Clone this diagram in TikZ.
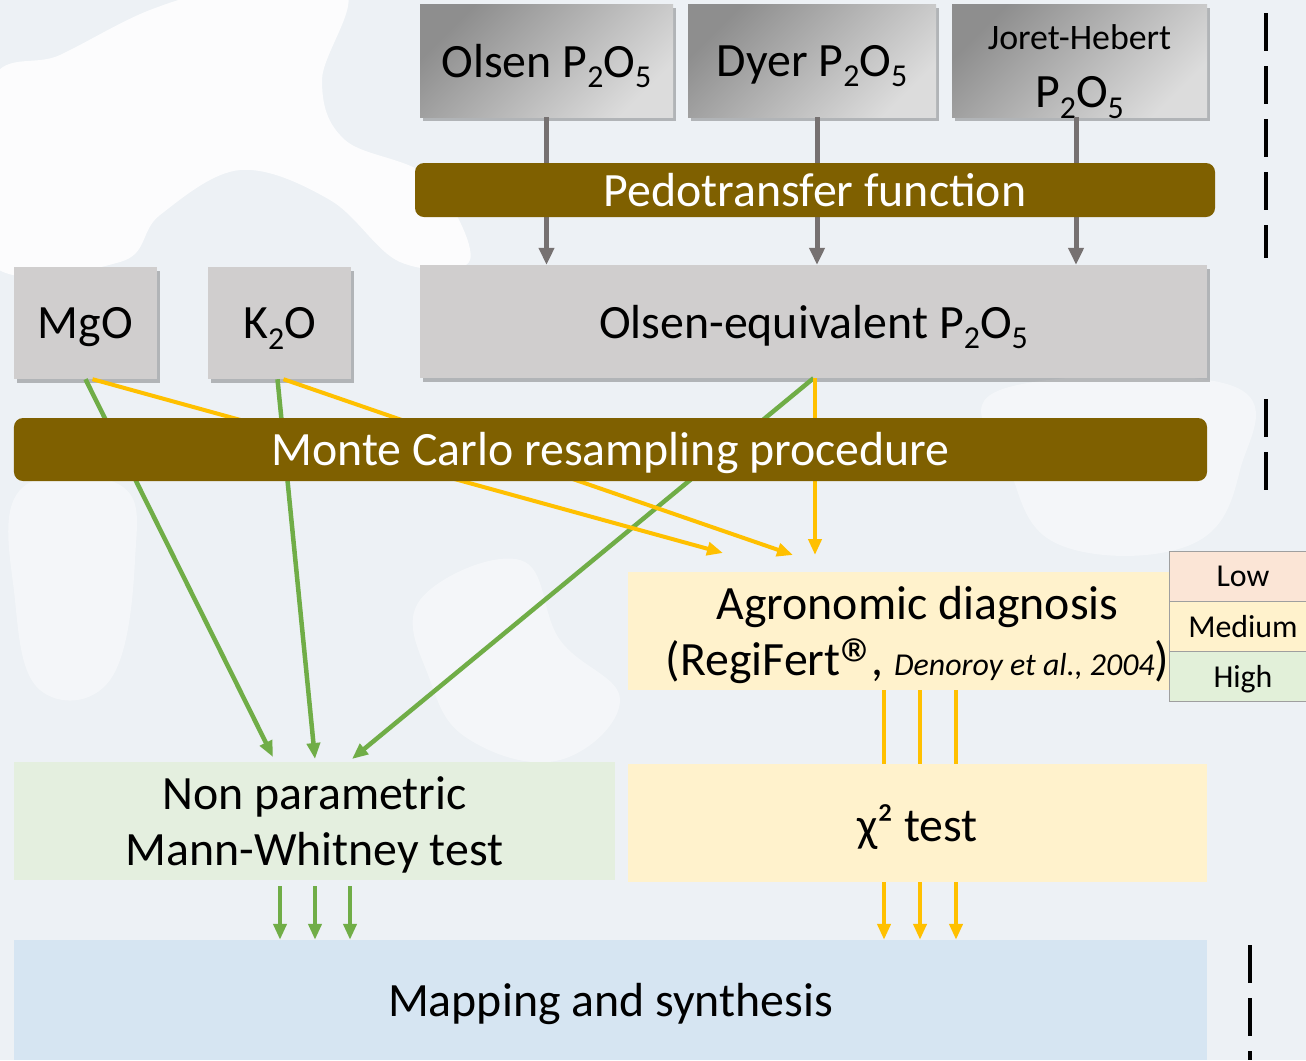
\documentclass[tikz,border=0pt]{standalone}
\usepackage{fontspec}
\setmainfont{Carlito}
\usetikzlibrary{arrows.meta,shadows,calc}
\definecolor{bgc}{HTML}{EDF1F5}
\definecolor{boxgray}{HTML}{D0CECE}
\definecolor{gradA}{HTML}{8E8E8E}
\definecolor{gradB}{HTML}{DCDCDC}
\definecolor{barc}{HTML}{7F6000}
\definecolor{agroc}{HTML}{FFF2CC}
\definecolor{npc}{HTML}{E4EFDF}
\definecolor{mapc}{HTML}{D6E5F2}
\definecolor{lowc}{HTML}{FBE5D6}
\definecolor{highc}{HTML}{E2F0D9}
\definecolor{garr}{HTML}{767171}
\definecolor{grn}{HTML}{70AD47}
\definecolor{yel}{HTML}{FFC000}
\newcommand{\sbs}[1]{\raisebox{-0.22em}{\fontsize{32}{32}\selectfont #1}}
\newcommand{\regmark}{\raisebox{-16bp}{\scalebox{1.6}{®}}\kern-8bp}
\tikzset{
  bigtxt/.style={font=\fontsize{48}{56}\selectfont},
  plainbox/.style={inner sep=0pt, align=center, bigtxt, text depth=0pt},
  shadowed/.style={drop shadow={shadow xshift=3bp, shadow yshift=-4bp, opacity=0.25, fill=black}},
  gradbox/.style={plainbox, shadowed, top color=gradA, bottom color=gradB, shading angle=45},
  graybox/.style={plainbox, shadowed, fill=boxgray},
  barbox/.style={inner sep=0pt, bigtxt, fill=barc, rounded corners=9bp, text=white},
  garrow/.style={draw=garr, line width=5bp, -{Triangle[length=17bp, width=15bp]}},
  greenarrow/.style={draw=grn, line width=4.5bp, -{Triangle[length=16bp, width=13bp]}},
  yelarrow/.style={draw=yel, line width=4bp, -{Triangle[length=16bp, width=13bp]}},
  yelline/.style={draw=yel, line width=4bp},
  dashline/.style={draw=black, line width=4bp, dash pattern=on 38bp off 15bp},
  levelbox/.style={inner sep=0pt, draw=gray!75, line width=0.8bp, minimum width=148bp, minimum height=50bp, font=\fontsize{32}{34}\selectfont, text depth=0pt},
  blob/.style={fill=white, opacity=0.85},
  softblob/.style={fill=white, opacity=0.4}
}
\begin{document}
\begin{tikzpicture}[x=1bp,y=-1bp]
\clip (0,0) rectangle (1306,1060);
\fill[bgc] (0,0) rectangle (1306,1060);

% faint background shapes
\fill[blob] plot[smooth cycle, tension=0.6] coordinates {(-10,85) (60,55) (150,10) (230,-10) (345,-10) (322,80) (345,140) (430,178) (470,260) (400,262) (330,200) (240,170) (160,215) (120,262) (-10,262)};
\fill[softblob] plot[smooth cycle, tension=0.7] coordinates {(20,490) (120,485) (135,560) (110,680) (40,690) (15,600)};
\fill[softblob] plot[smooth cycle, tension=0.7] coordinates {(1000,390) (1230,385) (1240,470) (1190,545) (1060,545) (1010,470)};
\fill[softblob] plot[smooth cycle, tension=0.7] coordinates {(420,600) (520,560) (560,640) (620,700) (560,760) (470,740) (430,680)};

% top boxes
\node[gradbox, minimum width=253bp, minimum height=113bp] (olsen) at (546.5,60.5) {Olsen P\sbs{2}O\sbs{5}};
\node[gradbox, minimum width=248bp, minimum height=113bp] (dyer) at (812,60.5) {Dyer P\sbs{2}O\sbs{5}};
\node[gradbox, minimum width=255bp, minimum height=113bp, text height=94bp] (joret) at (1079.5,60.5) {{\fontsize{36}{40}\selectfont Joret-Hebert}\\[2.5bp]P\sbs{2}O\sbs{5}};

% Olsen-equivalent and MgO, K2O
\node[graybox, minimum width=787bp, minimum height=113bp] (olseq) at (813.5,321.5) {Olsen-equivalent P\sbs{2}O\sbs{5}};
\node[graybox, minimum width=143bp, minimum height=112bp] (mgo) at (85.5,323) {MgO};
\node[graybox, minimum width=143bp, minimum height=112bp] (k2o) at (279.5,323) {K\sbs{2}O};

% gray arrows
\coordinate (dx) at (817,0);
\coordinate (jx) at (1076,0);
\draw[garrow] (olsen.south) -- (olsen.south |- olseq.north);
\draw[garrow] (dyer.south -| dx) -- (olseq.north -| dx);
\draw[garrow] (joret.south -| jx) -- (olseq.north -| jx);

% pedotransfer bar
\node[barbox, minimum width=800bp, minimum height=54bp] (pedo) at (815,190) {Pedotransfer function};

% lower boxes
\node[plainbox, fill=agroc, minimum width=579bp, minimum height=118bp] (agro) at (917.5,631) {Agronomic diagnosis\\(RegiFert\regmark, {\fontsize{32}{36}\selectfont\itshape Denoroy et al., 2004})};
\node[levelbox, fill=lowc] (low) at (1243,576) {Low};
\node[levelbox, fill=agroc] (med) at (1243,626) {Medium};
\node[levelbox, fill=highc] (high) at (1243,676) {High};
\node[plainbox, fill=agroc, minimum width=579bp, minimum height=118bp] (chi) at (917.5,823) {χ² test};
\node[plainbox, fill=npc, minimum width=601bp, minimum height=118bp] (np) at (314.5,821) {Non parametric\\Mann-Whitney test};
\node[plainbox, fill=mapc, minimum width=1193bp, minimum height=120bp] (map) at (610.5,1000) {Mapping and synthesis};

% free ends
\coordinate (g1) at (273,757);
\coordinate (g2) at (315,759);
\coordinate (g3) at (352,759);
\coordinate (y1) at (723,553);
\coordinate (y2) at (793,555);
\coordinate (y3) at (815,555);

% green arrows
\draw[greenarrow] (mgo.south) -- (g1);
\draw[greenarrow] ([xshift=-2bp]k2o.south) -- (g2);
\draw[greenarrow] (olseq.south) -- (g3);
% yellow arrows
\draw[yelarrow] ([xshift=7bp]mgo.south) -- (y1);
\draw[yelarrow] ([xshift=4bp]k2o.south) -- (y2);
\draw[yelarrow] ([xshift=1.5bp]olseq.south) -- (y3);

% Monte Carlo bar
\node[barbox, minimum width=1193bp, minimum height=63bp, text depth=2bp] (monte) at (610.5,449.5) {Monte Carlo resampling procedure};

% agro -> chi lines, chi -> map arrows
\foreach \xx [count=\i] in {884,920,956} {
  \coordinate (cx\i) at (\xx,0);
  \draw[yelline] (agro.south -| cx\i) -- (chi.north -| cx\i);
  \draw[yelarrow] (chi.south -| cx\i) -- (map.north -| cx\i);
}
\foreach \xx [count=\i] in {280,315,350} {
  \coordinate (nx\i) at (\xx,0);
  \draw[greenarrow] ($(np.south -| nx\i)+(0,6)$) -- (map.north -| nx\i);
}

% dashed separators
\coordinate (d1a) at (1266,13); \coordinate (d1b) at (1266,258);
\coordinate (d2a) at (1266,399); \coordinate (d2b) at (1266,490);
\coordinate (d3a) at (1250,945); \coordinate (d3b) at (1250,1060);
\draw[dashline] (d1a) -- (d1b);
\draw[dashline] (d2a) -- (d2b);
\draw[dashline] (d3a) -- (d3b);
\end{tikzpicture}
\end{document}
